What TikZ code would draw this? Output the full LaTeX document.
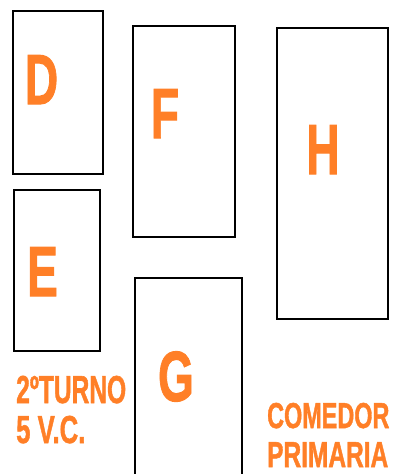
\documentclass[tikz,border=0pt]{standalone}
\usepackage{fontspec}
\setmainfont{Liberation Sans}[BoldFeatures={FakeBold=1.5}]
\definecolor{naranja}{HTML}{FF7F27}
\tikzstyle{aula}=[draw=black, line width=2.6pt, inner sep=0pt]
\tikzstyle{pared}=[draw=black, line width=2.6pt]
\tikzstyle{letra}=[text=naranja, font=\bfseries\fontsize{71}{71}\selectfont, inner sep=0pt, anchor=base]
\tikzstyle{rotulo}=[text=naranja, font=\bfseries\fontsize{39}{39}\selectfont, inner sep=0pt, anchor=base west]

\begin{document}
\begin{tikzpicture}[x=1pt, y=-1pt]
			\useasboundingbox (0,0) rectangle (392,474);
			\node [style=aula, minimum width=90pt, minimum height=163pt] (D) at (58, 92.5) {};
			\node [style=aula, minimum width=102pt, minimum height=211pt] (F) at (184, 131.5) {};
			\node [style=aula, minimum width=111pt, minimum height=291pt] (H) at (332.5, 173.5) {};
			\node [style=aula, minimum width=86pt, minimum height=161pt] (E) at (57, 270.5) {};
			\coordinate (G0) at (135, 476);
			\coordinate (G1) at (135, 278);
			\coordinate (G2) at (242, 278);
			\coordinate (G3) at (242, 476);
			\draw [style=pared] (G0) -- (G1) -- (G2) -- (G3);
			\node [style=letra] (d) at (41.5, 104) {\scalebox{0.65}[1]{D}};
			\node [style=letra] (f) at (165, 138) {\scalebox{0.65}[1]{F}};
			\node [style=letra] (h) at (323, 174) {\scalebox{0.65}[1]{H}};
			\node [style=letra] (e) at (42.5, 296) {\scalebox{0.65}[1]{E}};
			\node [style=letra] (g) at (176, 401) {\scalebox{0.65}[1]{G}};
			\node [style=rotulo] (turno) at (16, 403) {\scalebox{0.63}[1]{2ºTURNO}};
			\node [style=rotulo] (vc) at (16, 443) {\scalebox{0.66}[1]{5 V.C.}};
			\node [style=rotulo, font=\bfseries\fontsize{36}{36}\selectfont] (comedor) at (267, 428) {\scalebox{0.65}[1]{COMEDOR}};
			\node [style=rotulo, font=\bfseries\fontsize{36}{36}\selectfont] (primaria) at (267, 467) {\scalebox{0.68}[1]{PRIMARIA}};
\end{tikzpicture}
\end{document}
